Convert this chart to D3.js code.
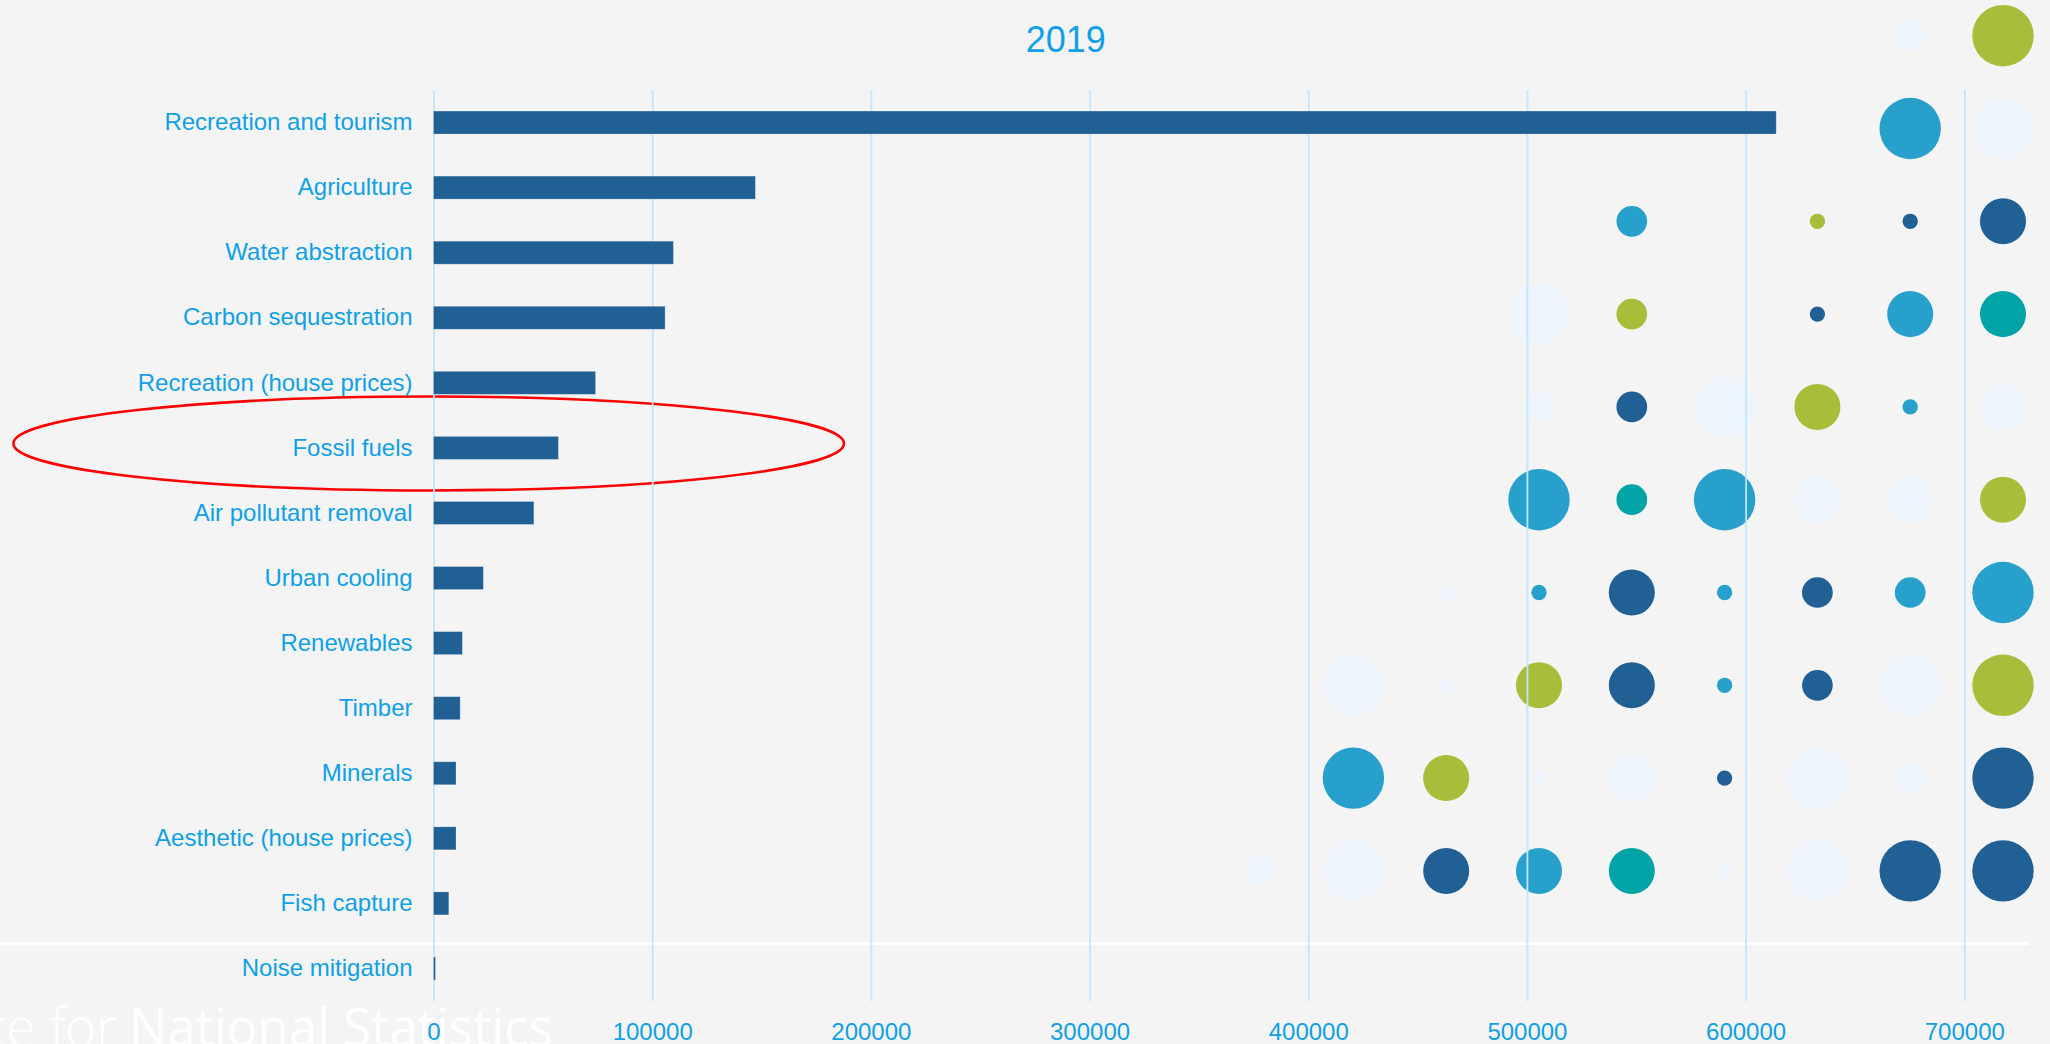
<!DOCTYPE html>
<html>
<head>
<meta charset="utf-8">
<script src="https://cdn.jsdelivr.net/npm/d3@7"></script>
<style>
  html, body { margin: 0; padding: 0; background: #f4f4f4; }
  svg { display: block; }
</style>
</head>
<body>
<div id="chart"></div>
<script>
const W = 2050, H = 1044;

// chart data
const title = "2019";
const categories = [
  "Recreation and tourism", "Agriculture", "Water abstraction", "Carbon sequestration",
  "Recreation (house prices)", "Fossil fuels", "Air pollutant removal", "Urban cooling",
  "Renewables", "Timber", "Minerals", "Aesthetic (house prices)", "Fish capture", "Noise mitigation"
];
const values = [614000, 147200, 109700, 105900, 74100, 57100, 45900, 22800, 13200, 12200, 10300, 10300, 7000, 900];
const xTicks = [0, 100000, 200000, 300000, 400000, 500000, 600000, 700000];
const highlighted = "Fossil fuels";

// background dot pattern: per row, [column, tone, size]
const dotGrid = [
  [[7, "pale", 2], [8, "green", 4]],
  [[7, "sky", 4], [8, "pale", 4]],
  [[4, "sky", 2], [6, "green", 1], [7, "dark", 1], [8, "dark", 3]],
  [[3, "pale", 4], [4, "green", 2], [6, "dark", 1], [7, "sky", 3], [8, "teal", 3]],
  [[3, "pale", 2], [4, "dark", 2], [5, "pale", 4], [6, "green", 3], [7, "sky", 1], [8, "pale", 3]],
  [[3, "sky", 4], [4, "teal", 2], [5, "sky", 4], [6, "pale", 3], [7, "pale", 3], [8, "green", 3]],
  [[2, "pale", 1], [3, "sky", 1], [4, "dark", 3], [5, "sky", 1], [6, "dark", 2], [7, "sky", 2], [8, "sky", 4]],
  [[1, "pale", 4], [2, "pale", 1], [3, "green", 3], [4, "dark", 3], [5, "sky", 1], [6, "dark", 2], [7, "pale", 4], [8, "green", 4]],
  [[1, "sky", 4], [2, "green", 3], [3, "pale", 1], [4, "pale", 3], [5, "dark", 1], [6, "pale", 4], [7, "pale", 2], [8, "dark", 4]],
  [[0, "pale", 2], [1, "pale", 4], [2, "dark", 3], [3, "sky", 3], [4, "teal", 3], [5, "pale", 1], [6, "pale", 4], [7, "dark", 4], [8, "dark", 4]]
];
const dotTones = ["dark", "sky", "green", "teal", "pale"];
const dotColours = ["#206095", "#27a0cc", "#a8bd3a", "#00a3a6", "#edf4fb"];

const textCol = "#0fa0e6";
const gridCol = "#c2e6fa";
const barCol = "#206095";

const svg = d3.select("#chart").append("svg")
  .attr("width", W).attr("height", H)
  .style("font-family", "'Liberation Sans', Arial, sans-serif");

svg.append("rect").attr("width", W).attr("height", H).attr("fill", "#f4f4f4");

// watermark
svg.append("text")
  .attr("x", 117).attr("y", 1046)
  .attr("text-anchor", "end")
  .attr("font-family", "'Open Sans', sans-serif")
  .attr("font-weight", 300)
  .attr("font-size", 53)
  .attr("fill", "#ffffff")
  .text("Office for");

svg.append("text")
  .attr("x", 129).attr("y", 1046)
  .attr("font-family", "'Open Sans', sans-serif")
  .attr("font-size", 53)
  .attr("fill", "#ffffff")
  .attr("textLength", 424)
  .attr("lengthAdjust", "spacingAndGlyphs")
  .text("National Statistics");

svg.append("line")
  .attr("x1", 0).attr("x2", 2029)
  .attr("y1", 943.5).attr("y2", 943.5)
  .attr("stroke", "#ffffff").attr("stroke-width", 3);

// dots
const dotX = d3.scaleLinear().domain([0, 8]).range([1260.6, 2003]);
const dotY = d3.scaleLinear().domain([0, 9]).range([35.7, 870.9]);
const dotR = d3.scaleLinear().domain([0, 4]).range([0, 30.7]);
const dotColour = d3.scaleOrdinal().domain(dotTones).range(dotColours);

const dots = dotGrid.flatMap((row, r) => row.map(([c, tone, s]) => ({ r, c, tone, s })));
svg.append("g").selectAll("circle")
  .data(dots)
  .join("circle")
  .attr("cx", d => dotX(d.c))
  .attr("cy", d => dotY(d.r))
  .attr("r", d => dotR(d.s))
  .attr("fill", d => dotColour(d.tone));

// scales
const x = d3.scaleLinear().domain([0, 700000]).range([433.5, 1964.3]);
const y = d3.scaleBand().domain(categories).range([90, 1001]).paddingInner(0.6465).paddingOuter(0.6465 / 2);

// highlight ellipse
svg.append("ellipse")
  .attr("cx", 428.7)
  .attr("cy", y(highlighted) + y.bandwidth() / 2 - 4.4)
  .attr("rx", 415.3).attr("ry", 47)
  .attr("fill", "none")
  .attr("stroke", "#ff0000")
  .attr("stroke-width", 2.6);

// x axis with gridlines
const xAxis = svg.append("g")
  .attr("transform", `translate(0,1001)`)
  .call(d3.axisBottom(x).tickValues(xTicks).tickFormat(d3.format("d")).tickSize(-(1001 - 90)).tickPadding(22));
xAxis.select(".domain").remove();
xAxis.selectAll(".tick line").attr("stroke", gridCol).attr("stroke-width", 1.8);
xAxis.selectAll(".tick text")
  .attr("fill", textCol)
  .attr("font-size", 24)
  .attr("font-family", "'Liberation Sans', Arial, sans-serif");

// bars
svg.append("g").selectAll("rect")
  .data(categories)
  .join("rect")
  .attr("x", x(0))
  .attr("y", d => y(d))
  .attr("width", (d, i) => x(values[i]) - x(0))
  .attr("height", y.bandwidth())
  .attr("fill", barCol)
  .attr("stroke", "rgba(255,255,255,0.3)")
  .attr("stroke-width", 0.8);

// y axis labels
const yAxis = svg.append("g")
  .attr("transform", `translate(${x(0)},0)`)
  .call(d3.axisLeft(y).tickSize(0).tickPadding(21));
yAxis.select(".domain").remove();
yAxis.selectAll(".tick text")
  .attr("fill", textCol)
  .attr("font-size", 24)
  .attr("font-family", "'Liberation Sans', Arial, sans-serif");

// title
svg.append("text")
  .attr("x", 1065.7).attr("y", 52)
  .attr("text-anchor", "middle")
  .attr("fill", textCol)
  .attr("font-size", 36)
  .text(title);
</script>
</body>
</html>
